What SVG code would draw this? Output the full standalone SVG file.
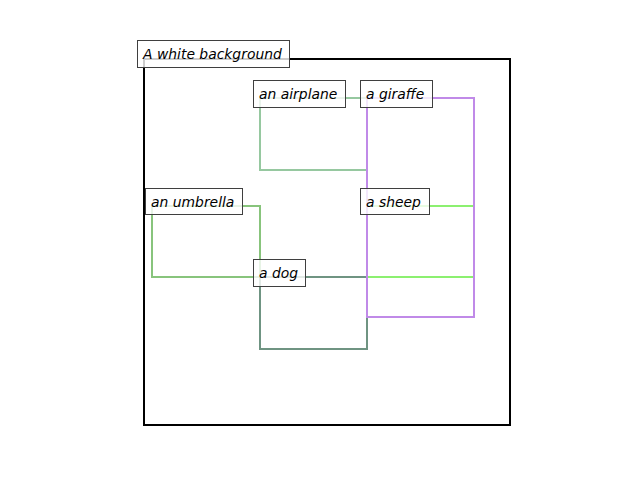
<svg xmlns="http://www.w3.org/2000/svg" width="640" height="480" viewBox="0 0 640 480">
<style>
  .box { fill: none; stroke-width: 2; }
  .lbl rect { fill: #ffffff; fill-opacity: 0.8; stroke: #3f3f3f; stroke-width: 1; }
  .lbl text { font-family: "DejaVu Sans", "Liberation Sans", sans-serif; font-style: oblique; font-size: 13.9px; fill: #000000; }
</style>
<rect width="640" height="480" fill="#ffffff"/>
<g id="connectors">
  <rect class="box" x="144" y="59" width="366" height="366" stroke="#000000"/>
  <rect class="box" x="260" y="98" width="107" height="72" stroke="#96c8a0"/>
  <rect class="box" x="152" y="206" width="108" height="71" stroke="#88c47c"/>
  <rect class="box" x="260" y="277" width="107" height="72" stroke="#6f9482"/>
  <rect class="box" x="367" y="206" width="107" height="71" stroke="#8cf070"/>
  <rect class="box" x="367" y="98" width="107" height="219" stroke="#c08ae8"/>
</g>
<g id="node-background" class="lbl">
  <rect x="137.5" y="40.5" width="152" height="27"/>
  <text x="143" y="59">A white background</text>
</g>
<g id="node-airplane" class="lbl">
  <rect x="253.5" y="80.5" width="92" height="27"/>
  <text x="259" y="99">an airplane</text>
</g>
<g id="node-giraffe" class="lbl">
  <rect x="360.5" y="80.5" width="72" height="27"/>
  <text x="366" y="99">a giraffe</text>
</g>
<g id="node-umbrella" class="lbl">
  <rect x="145.5" y="188.5" width="97" height="26"/>
  <text x="151" y="207">an umbrella</text>
</g>
<g id="node-sheep" class="lbl">
  <rect x="360.5" y="188.5" width="69" height="26"/>
  <text x="366" y="207">a sheep</text>
</g>
<g id="node-dog" class="lbl">
  <rect x="253.5" y="259.5" width="52" height="27"/>
  <text x="259" y="278">a dog</text>
</g>
</svg>
